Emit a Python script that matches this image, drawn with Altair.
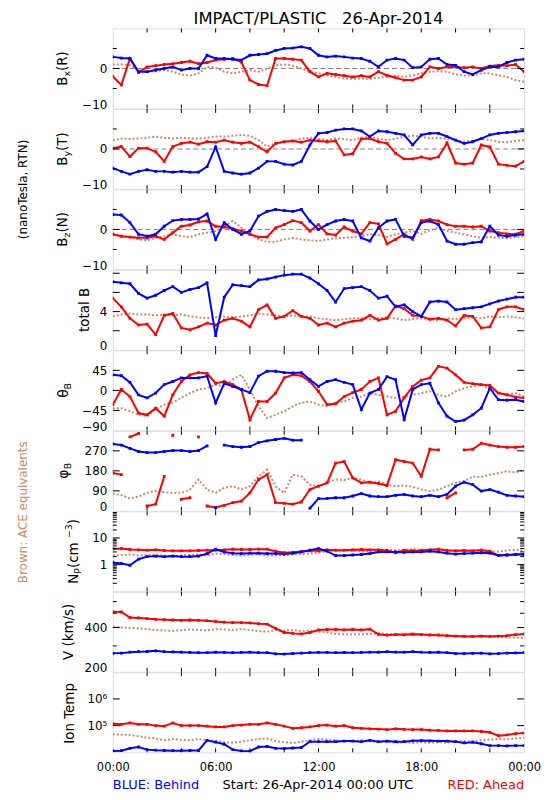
import altair as alt
import pandas as pd

# ---------------- data ----------------
hours = [0, 0.5, 1, 1.5, 2, 2.5, 3, 3.5, 4, 4.5, 5, 5.5, 6, 6.5, 7, 7.5, 8, 8.5, 9, 9.5,
         10, 10.5, 11, 11.5, 12, 12.5, 13, 13.5, 14, 14.5, 15, 15.5, 16, 16.5, 17, 17.5,
         18, 18.5, 19, 19.5, 20, 20.5, 21, 21.5, 22, 22.5, 23, 23.5, 24]

bx_blue = [2.9, 2.6, 2.5, -0.8, -0.8, -0.4, 0.0, 0.4, -0.4, 0.0,
           0.0, 3.3, 2.5, 2.5, 2.3, 2.1, 3.3, 3.5, 3.7, 4.5,
           5.0, 5.1, 5.4, 5.0, 3.3, 2.9, 3.1, 2.9, 2.6, 2.5,
           1.8, 0.4, 2.1, 2.5, 2.1, 0.2, 0.4, 2.3, 2.5, 1.0,
           0.8, -0.8, -1.5, -0.4, 0.4, 0.4, 1.5, 2.1, 2.3]
bx_red = [-2.0, -4.1, 2.5, -1.0, 0.4, 0.7, 1.0, 1.2, 1.5, 1.8,
          1.2, 1.5, 2.1, 2.3, 2.5, 1.6, -2.9, -4.0, -4.3, 2.5,
          2.5, 2.3, 2.1, -0.8, -2.1, -1.2, -1.5, -1.8, -2.1, -1.8,
          -2.1, -0.8, -1.7, -2.3, -2.9, -2.9, -2.1, 0.4, 0.0, 0.4,
          0.4, 0.2, 0.4, 0.0, 0.6, 0.8, 0.7, 1.0, -0.8]
bx_brown = [1.0, 1.0, 0.8, -0.4, -0.8, -0.7, -0.4, -0.8, -1.5, -1.8,
            -1.2, 0.4, 0.2, -0.8, -1.2, -0.8, -0.4, -0.8, 0.0, 0.8,
            1.0, 0.7, 0.0, -0.8, -1.2, -1.7, -2.1, -2.5, -2.6, -2.5,
            -2.6, -2.3, -2.1, -1.8, -2.1, -1.7, -1.2, -0.8, -0.7, -0.8,
            -1.5, -1.8, -1.7, -1.2, -1.2, -1.7, -2.1, -2.9, -3.3]

by_blue = [-4.8, -5.6, -6.3, -5.6, -5.2, -5.6, -5.6, -5.8, -5.6, -5.8,
           -5.8, -4.4, 0.5, -5.6, -6.0, -6.3, -6.0, -4.8, -3.1, -3.1,
           -3.8, -4.0, -3.1, 1.0, 3.9, 4.1, 4.7, 5.0, 5.0, 4.5,
           3.1, 4.5, 4.3, 3.9, 3.5, 1.0, 3.5, 3.9, 3.9, 3.1,
           2.2, 1.4, 1.8, 2.6, 3.5, 3.9, 4.1, 4.3, 4.5]
by_red = [0.2, 0.6, -1.9, 0.2, 0.2, -0.7, -3.1, 0.6, 1.4, 1.7,
          1.2, 1.8, 1.7, 2.2, 1.7, 1.4, 1.7, 0.6, -0.7, 1.4,
          1.8, 2.0, 1.7, 2.2, 2.0, 1.8, 2.0, -1.5, -1.2, 2.5,
          2.6, 1.8, 1.4, -1.1, -2.5, -2.5, -2.0, -2.5, -2.0, 1.5,
          -3.5, -3.8, -3.5, 1.0, 0.5, -3.8, -4.1, -4.3, -3.1]
by_brown = [2.2, 2.6, 2.5, 2.6, 2.8, 3.1, 2.8, 2.6, 2.8, 2.6,
            2.6, 2.8, 3.1, 3.1, 3.3, 3.5, 3.3, 2.2, 0.6, 1.4,
            1.8, 2.0, 2.6, 2.8, 2.5, 2.2, 2.6, 2.5, 2.2, 2.8,
            3.1, 2.5, 2.2, 2.6, 3.1, 3.3, 3.1, 2.6, 2.8, 2.5,
            2.2, 1.8, 2.0, 2.6, 2.2, 1.8, 1.7, 2.0, 2.2]

bz_blue = [3.7, 3.6, 1.7, -1.2, -1.7, -1.2, 0.8, 2.2, 2.5, 2.5,
           2.6, 3.9, -2.5, 1.7, 0.0, -1.2, -0.4, 3.3, 4.5, 5.0,
           4.7, 4.5, 5.0, 2.1, 0.0, 1.2, 2.1, 2.5, 2.1, -2.1,
           -2.9, 0.4, 2.1, 2.5, -1.7, -2.1, 1.7, 2.1, 1.2, -2.9,
           -3.7, -3.7, -3.3, -3.1, 0.8, -1.4, -1.7, -1.4, -1.2]
bz_red = [-1.2, -1.7, -1.9, -2.1, -2.1, -1.7, -2.5, -0.8, 0.8, 1.1,
          1.9, 2.1, 0.8, 0.6, 0.2, -0.4, -1.2, -1.9, -1.9, 0.4,
          1.2, 2.2, 1.7, -0.4, 1.2, -1.1, -1.4, 0.6, -0.4, -1.1,
          1.7, 1.4, -3.6, -2.5, -1.2, -2.5, 2.2, 2.5, 2.1, 1.2,
          0.8, 0.8, 0.6, 0.8, -0.4, -0.8, -1.1, -1.2, -0.4]
bz_brown = [-1.2, -1.7, -1.9, -2.5, -2.7, -2.1, -1.7, -1.2, -1.7, -1.9,
            -1.2, -0.8, -0.4, 0.8, 2.1, 0.4, -1.1, -2.5, -3.1, -3.1,
            -2.5, -2.1, -2.5, -2.7, -2.9, -2.5, -2.2, -2.1, -1.9, -1.7,
            -1.2, -1.4, -1.9, -1.2, -0.8, -0.4, -1.1, -0.2, 0.4, -0.4,
            -0.8, -1.2, -1.7, -2.1, -1.9, -2.1, -2.2, -1.9, -1.7]

btot_blue = [7.1, 7.0, 6.9, 5.9, 5.4, 5.7, 6.2, 6.6, 6.0, 6.3,
             6.5, 7.0, 1.5, 5.5, 6.8, 6.7, 6.6, 7.3, 7.4, 7.6,
             7.8, 7.9, 7.9, 7.5, 6.9, 6.2, 5.0, 6.4, 6.5, 6.6,
             6.2, 5.4, 5.6, 4.5, 4.7, 4.0, 3.5, 5.0, 5.1, 5.0,
             4.2, 4.3, 4.4, 4.5, 4.8, 5.1, 5.3, 5.5, 5.5]
btot_red = [5.4, 4.5, 3.3, 2.6, 2.7, 1.6, 3.6, 3.8, 2.3, 2.1,
            2.4, 2.8, 2.6, 3.1, 3.3, 3.0, 2.4, 4.2, 4.7, 3.3,
            3.5, 4.1, 3.5, 3.3, 2.6, 2.8, 2.4, 2.8, 3.0, 3.1,
            3.6, 3.1, 3.3, 4.6, 4.3, 3.6, 3.5, 3.2, 3.3, 3.1,
            2.5, 3.6, 3.5, 2.3, 2.4, 4.2, 4.5, 4.5, 4.2]
btot_brown = [3.5, 3.7, 3.8, 3.7, 3.7, 3.6, 3.7, 3.6, 3.7, 3.5,
              3.4, 3.3, 3.4, 3.5, 3.4, 3.5, 3.6, 3.8, 3.7, 3.6,
              3.5, 3.6, 3.5, 3.5, 3.3, 3.2, 3.1, 3.2, 3.3, 3.3,
              3.2, 3.3, 3.4, 3.3, 3.1, 3.2, 3.3, 3.2, 3.1, 3.3,
              3.2, 3.3, 3.4, 3.3, 3.5, 3.4, 3.5, 3.4, 3.3]

theta_blue = [35, 33, 18, -10, -17, -6, 13, 20, 28, 28,
              28, 32, -28, 16, 9, 2, -5, 32, 43, 43,
              40, 39, 40, 24, 9, 20, 24, 18, 13, -43,
              -6, 2, 31, 24, -66, 2, 13, 16, -28, -58,
              -70, -67, -55, -40, 5, -21, -22, -21, -25]
theta_red = [-32, 2, -14, -51, -55, -40, -58, -10, 20, 35,
             40, 38, 16, 20, 13, 2, -66, -25, -25, -6,
             28, 35, 33, 20, -2, -32, -30, -14, -5, 2,
             20, 28, -55, -47, -17, 9, 23, 28, 54, 50,
             35, 18, 15, 13, 11, -6, -10, -15, -17]
theta_brown = [-40, -40, -47, -55, -58, -43, -32, -27, -17, -6,
               2, 5, 13, 9, 24, 35, 2, -36, -62, -55,
               -47, -36, -28, -25, -32, -36, -28, -25, -17, -14,
               -6, -10, -14, -17, -14, -10, -6, -2, -10, -14,
               -2, 5, 9, 13, 2, -6, -10, -6, -14]

phi_blue = [301, 296, 281, 267, 262, 262, 267, 271, 271, 267,
            271, 292, 15, 296, 289, 286, 289, 307, 315, 321,
            326, 318, 318, 12, 55, 56, 59, 59, 67, 78,
            67, 64, 64, 70, 74, 67, 64, 70, 64, 74,
            111, 129, 118, 89, 96, 84, 70, 67, 64]
phi_red = [170, 163, 333, 348, 22, 30, 155, 340, 52, 59,
           333, 22, 15, 25, 37, 44, 81, 141, 163, 37,
           34, 30, 40, 96, 111, 126, 215, 222, 148, 126,
           129, 123, 114, 230, 222, 215, 155, 277, 274, 59,
           81, 274, 277, 304, 296, 289, 286, 286, 289]
phi_brown = [78, 71, 56, 64, 81, 89, 84, 81, 81, 96,
             141, 96, 81, 104, 111, 96, 111, 155, 185, 110,
             80, 163, 155, 118, 111, 126, 141, 138, 148, 141,
             126, 133, 118, 111, 114, 108, 96, 89, 96, 111,
             126, 133, 155, 152, 163, 170, 178, 173, 185]

np_blue = [1.2, 1.1, 0.95, 1.6, 2.0, 2.1, 2.0, 2.1, 2.0, 2.0,
           2.1, 2.6, 3.8, 3.0, 2.7, 2.6, 2.7, 2.7, 2.6, 2.6,
           2.5, 2.7, 3.0, 3.5, 4.0, 3.2, 2.2, 2.2, 2.3, 2.4,
           2.6, 3.0, 3.0, 3.0, 2.9, 3.0, 3.0, 3.2, 3.0, 2.7,
           2.5, 2.6, 2.7, 2.8, 2.7, 2.2, 2.3, 2.4, 2.4]
np_red = [3.9, 4.0, 3.7, 3.6, 3.5, 3.6, 3.4, 3.3, 3.3, 3.3,
          3.4, 3.5, 3.5, 3.6, 3.8, 3.7, 3.7, 3.8, 3.8, 3.2,
          2.8, 2.9, 3.1, 3.3, 3.3, 3.6, 3.5, 3.5, 3.6, 3.7,
          3.6, 3.6, 3.4, 2.8, 3.4, 3.3, 3.4, 3.6, 3.8, 3.4,
          3.3, 3.4, 3.3, 3.5, 3.2, 2.2, 2.3, 2.4, 2.5]
np_brown = [2.2, 2.3, 2.4, 2.2, 2.3, 2.4, 2.2, 2.1, 2.2, 2.3,
            2.4, 2.2, 2.6, 2.5, 2.3, 2.2, 2.3, 2.4, 2.2, 2.2,
            2.3, 2.4, 2.5, 2.6, 2.8, 3.2, 3.3, 3.4, 3.3, 3.1,
            3.2, 3.5, 3.6, 3.4, 3.6, 3.8, 3.7, 3.6, 3.9, 3.6,
            3.4, 3.5, 3.3, 3.6, 3.2, 3.1, 3.4, 3.6, 3.3]

v_red = [512, 510, 468, 465, 460, 455, 452, 450, 448, 450,
         448, 445, 440, 435, 432, 432, 430, 425, 422, 395,
         370, 365, 362, 370, 385, 388, 388, 386, 388, 385,
         390, 360, 355, 358, 357, 360, 358, 356, 355, 352,
         350, 348, 348, 350, 348, 350, 352, 358, 362]
v_brown = [405, 400, 398, 395, 390, 385, 382, 380, 383, 388,
           385, 383, 390, 388, 385, 390, 385, 378, 375, 385,
           380, 385, 378, 382, 375, 370, 362, 360, 358, 360,
           362, 365, 362, 360, 362, 365, 360, 358, 360, 355,
           350, 352, 348, 350, 348, 346, 344, 342, 340]
v_blue = [267, 268, 272, 274, 275, 278, 274, 273, 272, 271,
          270, 270, 272, 271, 270, 271, 272, 270, 270, 265,
          264, 266, 268, 270, 271, 271, 270, 271, 270, 271,
          272, 272, 274, 272, 272, 274, 272, 271, 272, 270,
          266, 266, 267, 268, 265, 266, 268, 269, 270]

temp_red = [117000, 112000, 126000, 112000, 112000, 100000, 95500, 126000, 100000, 100000,
            100000, 95500, 89100, 89100, 100000, 105000, 112000, 112000, 126000, 112000,
            95500, 79400, 83200, 89100, 100000, 105000, 95500, 100000, 83200, 79400,
            75900, 74100, 70800, 75900, 72400, 70800, 70800, 67600, 66100, 63100,
            63100, 63100, 63100, 60300, 56200, 41700, 44700, 50100, 52500]
temp_blue = [11200, 11500, 14100, 15800, 12600, 12000, 11700, 11500, 11500, 11700,
             11700, 28200, 24000, 20000, 12600, 11200, 11000, 15800, 16600, 14100,
             13800, 14500, 15100, 25100, 25100, 25100, 25100, 26300, 26300, 25100,
             28200, 25100, 26300, 25100, 25100, 26900, 27500, 26900, 26300, 26300,
             25100, 22400, 24000, 20900, 17800, 17800, 17400, 17800, 17800]
temp_brown = [47900, 45700, 44700, 39800, 35500, 33100, 28200, 31600, 29500, 28200,
              31600, 28200, 26300, 24000, 22900, 25100, 28200, 31600, 33100, 26300,
              24000, 22400, 25100, 28200, 31600, 30200, 28200, 26300, 25100, 28200,
              26300, 24000, 25100, 22400, 24000, 22400, 24000, 22900, 24000, 22900,
              25100, 26300, 25100, 28200, 30200, 31600, 30200, 33100, 35500]

x_tick_hours = [2, 4, 6, 8, 10, 12, 14, 16, 18, 20, 22]
x_label_hours = [0, 6, 12, 18, 24]
x_label_text = ["00:00", "06:00", "12:00", "18:00", "00:00"]

title_text = "IMPACT/PLASTIC\u00a0\u00a0\u00a026-Apr-2014"

# ---------------- style ----------------
W = 414
H = 80.6
FONT = "DejaVu Sans"
BROWN = "#cd8a6a"
RED = "#ff0000"
BLUE = "#0000ff"
NB = "\u00a0"

CW = {'B': .686, 'x': .592, 'y': .592, 'z': .525, '(': .390, ')': .390, 'R': .695,
      'T': .611, 'N': .748, 't': .392, 'o': .612, 'a': .613, 'l': .278, ' ': .318,
      NB: .318, 'θ': .602, 'φ': .683, 'P': .603, 'c': .550, 'm': .974, '−': .838,
      '3': .636, 'V': .684, 'k': .579, '/': .337, 's': .521, 'I': .295, 'n': .634,
      'e': .615, 'p': .635}


def text_width(s, size):
    return sum(CW.get(c, 0.6) for c in s) * size


one = pd.DataFrame({"d": [0]})


def text_layer(text, x, y, size, color="black", align="left", baseline="middle",
               angle=0, dx=0, dy=0):
    kw = dict(text=text, fontSize=size, font=FONT, color=color, align=align,
              baseline=baseline, dx=dx, dy=dy)
    if angle:
        kw["angle"] = angle
    return alt.Chart(one).mark_text(**kw).encode(x=alt.value(x), y=alt.value(y))


def ytitle(pieces, xc, yc):
    total = sum(text_width(t, s) for t, s, _ in pieces)
    pos = -total / 2
    out = []
    for t, s, shift in pieces:
        out.append(text_layer(t, xc, yc, s, angle=270, dx=pos, dy=shift))
        pos += text_width(t, s)
    return out


def series_df(vals, wrap=None):
    seg, segs, prev = 0, [], None
    for v in vals:
        if wrap is not None and prev is not None and abs(v - prev) > wrap:
            seg += 1
        segs.append(seg)
        prev = v
    return pd.DataFrame({"h": hours, "v": vals, "seg": segs})


def label_expr(labels):
    e = "''"
    for v, t in reversed(labels):
        e = f"datum.value == {v} ? '{t}' : {e}"
    return e


np_minor = [0.2, 0.3, 0.4, 0.5, 0.6, 0.7, 0.8, 0.9, 2, 3, 4, 5, 6, 7, 8, 9,
            20, 30, 40, 50, 60, 70, 80, 90]

specs = [
    dict(type="linear", domain=[-10, 10], labels=[(-10, "\u221210"), (0, "0")], edge=-10,
         major=[0], minor=[-5, 5], zero=True, data=(bx_brown, bx_red, bx_blue), wrap=None,
         title=[("B", 13.5, 0), ("x", 9.5, 4), ("(R)", 13.5, 0)], tx=-50),
    dict(type="linear", domain=[-10, 10], labels=[(-10, "\u221210"), (0, "0")], edge=-10,
         major=[0], minor=[-5, 5], zero=True, data=(by_brown, by_red, by_blue), wrap=None,
         title=[("B", 13.5, 0), ("y", 9.5, 4), ("(T)", 13.5, 0)], tx=-50),
    dict(type="linear", domain=[-10, 10], labels=[(-10, "\u221210"), (0, "0")], edge=-10,
         major=[0], minor=[-5, 5], zero=True, data=(bz_brown, bz_red, bz_blue), wrap=None,
         title=[("B", 13.5, 0), ("z", 9.5, 4), ("(N)", 13.5, 0)], tx=-50),
    dict(type="linear", domain=[0, 8.35], labels=[(0, "0"), (4, "4")], edge=0,
         major=[2, 4, 6, 8], minor=[], zero=False, data=(btot_brown, btot_red, btot_blue),
         wrap=None, title=[("total" + NB + "B", 13.5, 0)], tx=-28),
    dict(type="linear", domain=[-90, 90],
         labels=[(-90, "\u221290"), (-45, "\u221245"), (0, "0"), (45, "45")], edge=-90,
         major=[-45, 0, 45], minor=[], zero=False, data=(theta_brown, theta_red, theta_blue),
         wrap=None, title=[("θ", 14, 0), ("B", 9.5, 4)], tx=-49),
    dict(type="linear", domain=[0, 360],
         labels=[(0, "0"), (90, "90"), (180, "180"), (270, "270")], edge=0,
         major=[90, 180, 270], minor=[], zero=False, data=(phi_brown, phi_red, phi_blue),
         wrap=150, title=[("φ", 14, 0), ("B", 9.5, 4)], tx=-49),
    dict(type="log", domain=[0.1, 100], labels=[(1, "1"), (10, "10")], edge=None,
         major=[1, 10], minor=np_minor, zero=False, data=(np_brown, np_red, np_blue),
         wrap=None, title=[("N", 13.5, 0), ("P", 9.5, 4), (NB + "(cm", 13.5, 0),
                           ("−3", 9.5, -5), (")", 13.5, 0)], tx=-39.5),
    dict(type="log", domain=[200, 700], labels=[(200, "200"), (400, "400")], edge=200,
         major=[400], minor=[300, 500, 600], zero=False, data=(v_brown, v_red, v_blue),
         wrap=None, title=[("V" + NB + "(km/s)", 13.5, 0)], tx=-44.5),
    dict(type="log", domain=[10000, 10000000],
         labels=[(100000, "10\u2075"), (1000000, "10\u2076")], edge=None,
         major=[100000, 1000000], minor=[], zero=False, data=(temp_brown, temp_red, temp_blue),
         wrap=None, title=[("Ion" + NB + "Temp", 13.5, 0)], tx=-43),
]


def make_panel(i, sp):
    first, last = i == 0, i == len(specs) - 1
    ys = alt.Scale(type=sp["type"], domain=sp["domain"], nice=False, zero=False)
    xs = alt.Scale(domain=[0, 24], nice=False, zero=False)
    if sp["edge"] is not None:
        lb = {"condition": {"test": f"datum.value == {sp['edge']}", "value": "alphabetic"},
              "value": "middle"}
    else:
        lb = "middle"
    yaxis = alt.Axis(values=[v for v, _ in sp["labels"]], labelExpr=label_expr(sp["labels"]),
                     ticks=False, domain=False, grid=False, title=None, labelFont=FONT,
                     labelFontSize=12, labelColor="black", labelPadding=6, labelFlush=False,
                     labelOverlap=False, labelBaseline=lb)
    if last:
        xaxis = alt.Axis(values=x_label_hours,
                         labelExpr=label_expr(list(zip(x_label_hours, x_label_text))),
                         ticks=False, domain=False, grid=False, title=None, labelFont=FONT,
                         labelFontSize=11.5, labelColor="black", labelPadding=9,
                         labelFlush=False, labelOverlap=False)
    else:
        xaxis = None

    X = lambda: alt.X("h:Q", scale=xs, axis=xaxis)
    Y = lambda: alt.Y("v:Q", scale=ys, axis=yaxis)

    brown, red, blue = sp["data"]
    layers = []
    if sp["zero"]:
        layers.append(alt.Chart(pd.DataFrame({"v": [0]})).mark_rule(
            color="#808080", strokeDash=[5, 3], strokeWidth=1
        ).encode(y=Y()))
    layers.append(
        alt.Chart(series_df(brown, sp["wrap"])).mark_line(
            color=BROWN, strokeWidth=2, strokeDash=[2, 2], clip=True
        ).encode(x=X(), y=Y(), detail="seg:N"))
    for vals, col in ((red, RED), (blue, BLUE)):
        df = series_df(vals, sp["wrap"])
        layers.append(alt.Chart(df).mark_line(color=col, strokeWidth=2, clip=True).encode(
            x=X(), y=Y(), detail="seg:N"))
        layers.append(alt.Chart(df).mark_square(color=col, size=8, opacity=1, clip=True).encode(
            x=X(), y=Y()))

    # inward ticks
    xt = pd.DataFrame({"h": x_tick_hours})
    layers.append(alt.Chart(xt).mark_rule(color="black", strokeWidth=1).encode(
        x=X(), y=alt.value(0), y2=alt.value(4)))
    layers.append(alt.Chart(xt).mark_rule(color="black", strokeWidth=1).encode(
        x=X(), y=alt.value(H - 4), y2=alt.value(H)))
    for vals, ln in ((sp["major"], 7), (sp["minor"], 4)):
        if not vals:
            continue
        tdf = pd.DataFrame({"v": vals})
        layers.append(alt.Chart(tdf).mark_rule(color="black", strokeWidth=1).encode(
            y=Y(), x=alt.value(0), x2=alt.value(ln)))
        layers.append(alt.Chart(tdf).mark_rule(color="black", strokeWidth=1).encode(
            y=Y(), x=alt.value(W - ln), x2=alt.value(W)))

    layers += ytitle(sp["title"], sp["tx"], H / 2)

    if first:
        layers.append(text_layer(title_text, W / 2, -4.5, 16.5, align="center",
                                 baseline="alphabetic"))
    if i == 1:
        layers.append(text_layer("(nanoTesla," + NB + "RTN)", -90.5, 81, 12, align="center",
                                 angle=270))
    if i == 6:
        layers.append(text_layer("Brown:" + NB + "ACE" + NB + "equivalents", -90.5, 1, 12,
                                 color=BROWN, align="center", angle=270))
    if last:
        layers.append(text_layer("BLUE:" + NB + "Behind", 0, H + 37, 13, color=BLUE,
                                 baseline="alphabetic"))
        layers.append(text_layer("Start:" + NB + "26-Apr-2014" + NB + "00:00" + NB + "UTC",
                                 206.5, H + 37, 13, align="center", baseline="alphabetic"))
        layers.append(text_layer("RED:" + NB + "Ahead", W, H + 37, 13, color=RED,
                                 align="right", baseline="alphabetic"))
    return alt.layer(*layers).properties(width=W, height=H)


chart = alt.vconcat(*[make_panel(i, sp) for i, sp in enumerate(specs)],
                    spacing=0, bounds="flush").properties(
    padding={"left": 7.5, "top": 0, "right": 0, "bottom": 0}
).configure_view(stroke="black", strokeWidth=1.5).configure(background="white")

chart.save("out.html", embed_options={"renderer": "svg", "actions": False})
